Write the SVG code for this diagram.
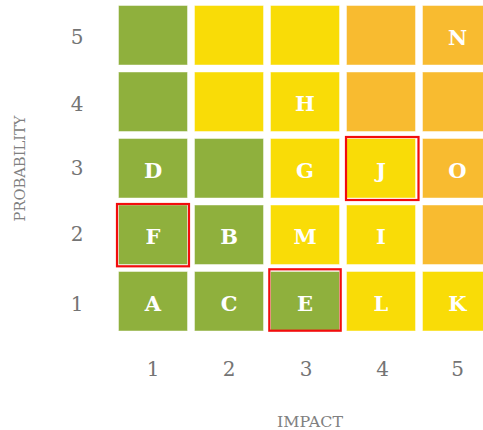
<svg xmlns="http://www.w3.org/2000/svg" width="483" height="430" viewBox="0 0 483 430">
<style>
.c{stroke:#ffffff;stroke-opacity:0.45;stroke-width:1}
.g{fill:#8fb03d}
.y{fill:#f9dc07}
.o{fill:#f8bb30}
.hl{fill:none;stroke:#f20d0d;stroke-width:2.2}
.lt{font-family:'DejaVu Serif',serif;font-weight:bold;font-size:21px;fill:#ffffff;text-anchor:middle;dominant-baseline:central}
.ax{font-family:'DejaVu Serif',serif;font-size:20px;fill:#747474;text-anchor:middle;dominant-baseline:central}
.tt{font-family:'DejaVu Serif',serif;font-size:15px;fill:#808080;text-anchor:middle;dominant-baseline:central}
</style>
<rect width="483" height="430" fill="#ffffff"/>
<g id="grid">
<g id="r5c1"><rect class="c g" x="118.5" y="5.5" width="69" height="59.5"/></g>
<g id="r5c2"><rect class="c y" x="194.5" y="5.5" width="69" height="59.5"/></g>
<g id="r5c3"><rect class="c y" x="270.5" y="5.5" width="69" height="59.5"/></g>
<g id="r5c4"><rect class="c o" x="346.5" y="5.5" width="69" height="59.5"/></g>
<g id="N"><rect class="c o" x="422.5" y="5.5" width="69" height="59.5"/><text class="lt" x="457.5" y="37">N</text></g>
<g id="r4c1"><rect class="c g" x="118.5" y="72" width="69" height="59.5"/></g>
<g id="r4c2"><rect class="c y" x="194.5" y="72" width="69" height="59.5"/></g>
<g id="H"><rect class="c y" x="270.5" y="72" width="69" height="59.5"/><text class="lt" x="305" y="103.5">H</text></g>
<g id="r4c4"><rect class="c o" x="346.5" y="72" width="69" height="59.5"/></g>
<g id="r4c5"><rect class="c o" x="422.5" y="72" width="69" height="59.5"/></g>
<g id="D"><rect class="c g" x="118.5" y="138.5" width="69" height="59.5"/><text class="lt" x="153" y="170">D</text></g>
<g id="r3c2"><rect class="c g" x="194.5" y="138.5" width="69" height="59.5"/></g>
<g id="G"><rect class="c y" x="270.5" y="138.5" width="69" height="59.5"/><text class="lt" x="305" y="170">G</text></g>
<g id="J"><rect class="c y" x="346.5" y="138.5" width="69" height="59.5"/><text class="lt" x="381" y="170">J</text></g>
<g id="O"><rect class="c o" x="422.5" y="138.5" width="69" height="59.5"/><text class="lt" x="457.5" y="170">O</text></g>
<g id="F"><rect class="c g" x="118.5" y="205" width="69" height="59.5"/><text class="lt" x="153" y="236.5">F</text></g>
<g id="B"><rect class="c g" x="194.5" y="205" width="69" height="59.5"/><text class="lt" x="229" y="236.5">B</text></g>
<g id="M"><rect class="c y" x="270.5" y="205" width="69" height="59.5"/><text class="lt" x="305" y="236.5">M</text></g>
<g id="I"><rect class="c y" x="346.5" y="205" width="69" height="59.5"/><text class="lt" x="381" y="236.5">I</text></g>
<g id="r2c5"><rect class="c o" x="422.5" y="205" width="69" height="59.5"/></g>
<g id="A"><rect class="c g" x="118.5" y="271.5" width="69" height="59.5"/><text class="lt" x="153" y="303">A</text></g>
<g id="C"><rect class="c g" x="194.5" y="271.5" width="69" height="59.5"/><text class="lt" x="229" y="303">C</text></g>
<g id="E"><rect class="c g" x="270.5" y="271.5" width="69" height="59.5"/><text class="lt" x="305" y="303">E</text></g>
<g id="L"><rect class="c y" x="346.5" y="271.5" width="69" height="59.5"/><text class="lt" x="381" y="303">L</text></g>
<g id="K"><rect class="c y" x="422.5" y="271.5" width="69" height="59.5"/><text class="lt" x="457.5" y="303">K</text></g>
</g>
<g id="highlights">
<rect class="hl" x="117" y="204" width="72" height="62.3"/>
<rect class="hl" x="346" y="137" width="72.5" height="63"/>
<rect class="hl" x="269.3" y="269.3" width="71.4" height="61.4"/>
</g>
<g id="yaxis">
<text class="ax" x="77" y="37">5</text>
<text class="ax" x="77" y="103.5">4</text>
<text class="ax" x="77" y="168">3</text>
<text class="ax" x="77" y="234">2</text>
<text class="ax" x="77" y="303.5">1</text>
<text class="tt" transform="translate(20,168.5) rotate(-90)" textLength="106" lengthAdjust="spacingAndGlyphs">PROBABILITY</text>
</g>
<g id="xaxis">
<text class="ax" x="153" y="368.5">1</text>
<text class="ax" x="229" y="368.5">2</text>
<text class="ax" x="306" y="368.5">3</text>
<text class="ax" x="382.5" y="368.5">4</text>
<text class="ax" x="457.5" y="368.5">5</text>
<text class="tt" x="310" y="421.5" textLength="66" lengthAdjust="spacingAndGlyphs">IMPACT</text>
</g>
</svg>
